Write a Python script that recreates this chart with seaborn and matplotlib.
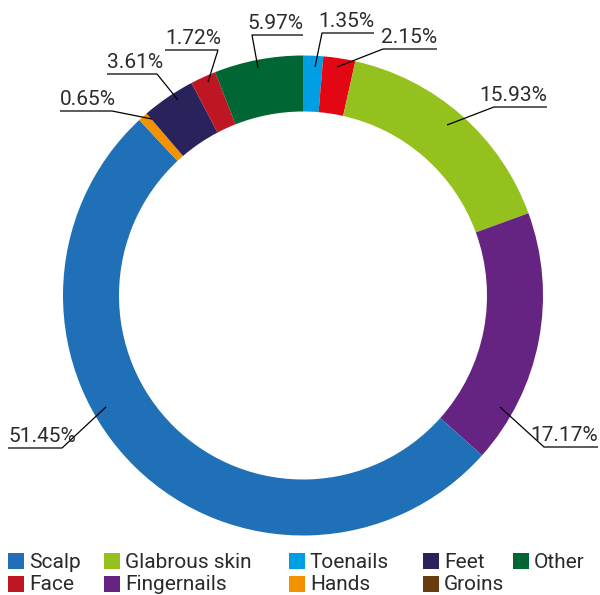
import matplotlib
matplotlib.use("Agg")
import matplotlib.pyplot as plt
import seaborn as sns
from matplotlib.patches import Rectangle

# ----------------------------
# Data (clockwise from 12 o'clock)
# ----------------------------
sites = ["Toenails", "Groins", "Glabrous skin", "Fingernails", "Scalp",
         "Hands", "Feet", "Face", "Other"]
shares = [1.35, 2.15, 15.93, 17.17, 51.45, 0.65, 3.61, 1.72, 5.97]
slice_colors = ["#009FE3", "#E30613", "#95C11F", "#662482", "#1F70B7",
                "#F39200", "#29235C", "#BE1622", "#006633"]

legend_names = ["Scalp", "Glabrous skin", "Toenails", "Feet", "Other",
                "Face", "Fingernails", "Hands", "Groins"]
legend_colors = ["#1F70B7", "#95C11F", "#009FE3", "#29235C", "#006633",
                 "#BE1622", "#662482", "#F39200", "#683C11"]

# label layout in pixels: anchor in ring, elbow, end of underline
label_layout = {
    "Toenails":      ((315, 67), (322, 33), (374, 33)),
    "Groins":        ((337, 67), (383, 49), (437, 49)),
    "Glabrous skin": ((447, 125), (494, 107), (547, 107)),
    "Fingernails":   ((500, 407), (544, 447), (598, 447)),
    "Scalp":         ((106, 407), (62, 448), (8, 448)),
    "Hands":         ((152, 119), (112, 111), (60, 111)),
    "Feet":          ((178, 100), (157, 74), (107, 74)),
    "Face":          ((208, 82), (218, 50), (165, 50)),
    "Other":         ((258, 68), (252, 35), (303, 35)),
}

# ----------------------------
# Plot
# ----------------------------
sns.set_theme(style="white")
plt.rcParams["font.family"] = ["Roboto", "DejaVu Sans"]

W, H = 600, 595
fig = plt.figure(figsize=(6.0, 5.95), dpi=100)
ax = fig.add_axes([0, 0, 1, 1])

palette = sns.color_palette(slice_colors)
ax.pie(
    shares,
    colors=palette,
    radius=240,
    center=(303, 295.5),
    startangle=-90,
    counterclock=True,
    wedgeprops=dict(width=56, linewidth=0),
)
ax.set_xlim(0, W)
ax.set_ylim(H, 0)
ax.set_aspect("equal")
ax.axis("off")

text_kw = dict(fontsize=15, color="#2b2b2b")

for name, val in zip(sites, shares):
    anchor, elbow, end = label_layout[name]
    ax.plot([anchor[0], elbow[0], end[0]], [anchor[1], elbow[1], end[1]],
            color="black", lw=0.9, solid_capstyle="butt")
    ha = "right" if end[0] > elbow[0] else "left"
    ax.text(end[0], elbow[1] - 6, f"{val:.2f}%", ha=ha, va="baseline", **text_kw)

# legend, drawn by hand to keep the uneven column spacing
col_x = [8, 104, 289, 423, 513]
row_y = [561, 584]
for i, (name, col) in enumerate(zip(legend_names, legend_colors)):
    x = col_x[i % 5]
    y = row_y[i // 5]
    ax.add_patch(Rectangle((x, y - 8), 16, 16, facecolor=col, edgecolor="none"))
    ax.text(x + 21, y + 1, name, ha="left", va="center", **text_kw)

fig.savefig("out.png", dpi=100)
